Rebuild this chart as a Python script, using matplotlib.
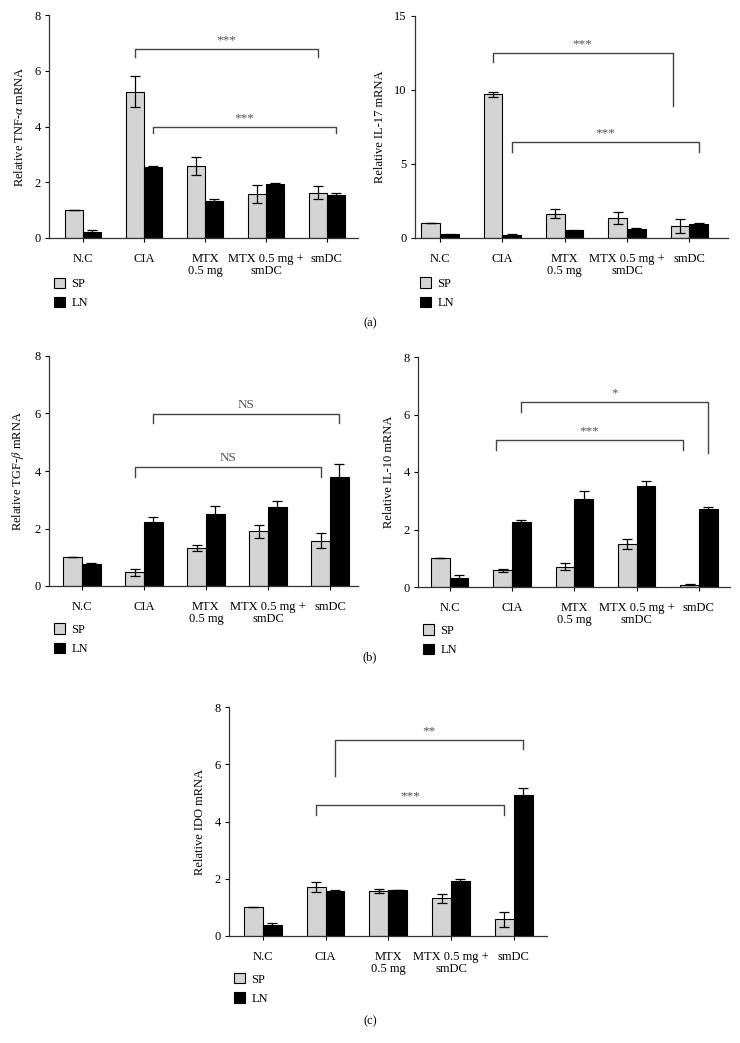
import matplotlib
matplotlib.use("Agg")
import matplotlib.pyplot as plt
from matplotlib.patches import Patch

plt.rcParams['font.family'] = ['Liberation Serif', 'DejaVu Serif']
plt.rcParams['mathtext.fontset'] = 'stix'
plt.rcParams['font.size'] = 9

# categories
groups = ['N.C', 'CIA', 'MTX\n0.5 mg', 'MTX 0.5 mg +\nsmDC', 'smDC']

# TNF-alpha
tnf_sp = [1.0, 5.25, 2.58, 1.58, 1.63]
tnf_sp_err = [0, 0.55, 0.32, 0.33, 0.22]
tnf_ln = [0.22, 2.55, 1.33, 1.93, 1.55]
tnf_ln_err = [0.06, 0.04, 0.06, 0.03, 0.08]

# IL-17
il17_sp = [1.0, 9.7, 1.65, 1.35, 0.82]
il17_sp_err = [0, 0.15, 0.33, 0.42, 0.48]
il17_ln = [0.25, 0.2, 0.52, 0.58, 0.95]
il17_ln_err = [0.03, 0.05, 0.02, 0.1, 0.07]

# TGF-beta
tgf_sp = [1.0, 0.48, 1.33, 1.9, 1.58]
tgf_sp_err = [0, 0.12, 0.1, 0.22, 0.25]
tgf_ln = [0.75, 2.22, 2.52, 2.75, 3.78]
tgf_ln_err = [0.04, 0.18, 0.27, 0.2, 0.45]

# IL-10
il10_sp = [1.0, 0.58, 0.7, 1.5, 0.08]
il10_sp_err = [0, 0.06, 0.12, 0.18, 0.02]
il10_ln = [0.32, 2.25, 3.05, 3.5, 2.7]
il10_ln_err = [0.1, 0.07, 0.3, 0.2, 0.1]

# IDO
ido_sp = [1.0, 1.72, 1.58, 1.32, 0.58]
ido_sp_err = [0, 0.17, 0.07, 0.15, 0.25]
ido_ln = [0.4, 1.57, 1.6, 1.92, 4.93]
ido_ln_err = [0.04, 0.05, 0.01, 0.07, 0.25]

W = 0.3
SP_COLOR = '#d4d4d4'
LINE_COL = '#444444'


def bracket(ax, x1, x2, y, d1, d2, label):
    ax.plot([x1, x1, x2, x2], [d1, y, y, d2], color=LINE_COL, lw=1.0,
            clip_on=False)
    ymax = ax.get_ylim()[1]
    ax.text((x1 + x2) / 2, y + ymax * 0.012, label, ha='center', va='bottom',
            color='#555555', fontsize=9.5)


def panel(rect, sp, sp_err, ln, ln_err, ymax, ystep, ylabel, xlim, brackets,
          legend_y):
    ax = fig.add_axes(rect)
    x = list(range(len(groups)))
    xs = [i - W / 2 for i in x]
    xl = [i + W / 2 for i in x]
    ek = dict(ecolor='black', elinewidth=0.9, capsize=3.5, capthick=0.9)
    ax.bar(xs, sp, W, yerr=sp_err, color=SP_COLOR, edgecolor='black',
           linewidth=0.8, error_kw=ek)
    ax.bar(xl, ln, W, yerr=ln_err, color='black', edgecolor='black',
           linewidth=0.8, error_kw=ek)
    ax.set_ylim(0, ymax)
    ax.set_xlim(*xlim)
    ax.set_yticks(range(0, ymax + 1, ystep))
    ax.set_xticks(x)
    ax.set_xticklabels(groups, linespacing=1.0)
    ax.tick_params(axis='x', length=3, pad=8, width=0.8)
    ax.tick_params(axis='y', length=3, width=0.8, pad=3)
    ax.set_ylabel(ylabel, fontsize=9, labelpad=6)
    for s in ['top', 'right']:
        ax.spines[s].set_visible(False)
    for s in ['left', 'bottom']:
        ax.spines[s].set_linewidth(0.9)
        ax.spines[s].set_color('#333333')
    for b in brackets:
        bracket(ax, *b)
    handles = [Patch(facecolor=SP_COLOR, edgecolor='black', lw=0.8, label='SP'),
               Patch(facecolor='black', edgecolor='black', lw=0.8, label='LN')]
    ax.legend(handles=handles, loc='upper left', frameon=False,
              bbox_to_anchor=(0.0, legend_y), handlelength=0.9,
              handleheight=0.9, handletextpad=0.5, labelspacing=0.55,
              borderaxespad=0, fontsize=9)
    return ax


fig = plt.figure(figsize=(7.4, 10.43), dpi=100)
H = 1043.0
Wd = 740.0


def rect(l, r, b, t):
    return [l / Wd, 1 - b / H, (r - l) / Wd, (b - t) / H]


panel(rect(49, 358, 238, 15), tnf_sp, tnf_sp_err, tnf_ln, tnf_ln_err, 8, 2,
      'Relative TNF-$\\alpha$ mRNA', (-0.56, 4.51),
      [(0.85, 3.85, 6.78, 6.5, 6.5, '***'),
       (1.15, 4.15, 3.98, 3.77, 3.77, '***')], -0.155)

panel(rect(415, 728, 238, 16), il17_sp, il17_sp_err, il17_ln, il17_ln_err,
      15, 5, 'Relative IL-17 mRNA', (-0.4, 4.62),
      [(0.85, 3.73, 12.5, 11.9, 8.9, '***'),
       (1.15, 4.15, 6.5, 5.8, 5.8, '***')], -0.155)

panel(rect(49, 358, 586, 356), tgf_sp, tgf_sp_err, tgf_ln, tgf_ln_err, 8, 2,
      'Relative TGF-$\\beta$ mRNA', (-0.53, 4.45),
      [(1.15, 4.15, 5.98, 5.67, 5.67, 'NS'),
       (0.85, 3.85, 4.14, 3.79, 3.79, 'NS')], -0.14)

panel(rect(418, 730, 587, 357), il10_sp, il10_sp_err, il10_ln, il10_ln_err,
      8, 2, 'Relative IL-10 mRNA', (-0.51, 4.5),
      [(1.15, 4.15, 6.43, 6.09, 4.66, '*'),
       (0.74, 3.74, 5.11, 4.77, 4.77, '***')], -0.14)

panel(rect(229, 547, 936, 707), ido_sp, ido_sp_err, ido_ln, ido_ln_err, 8, 2,
      'Relative IDO mRNA', (-0.54, 4.53),
      [(1.15, 4.15, 6.85, 5.6, 6.54, '**'),
       (0.85, 3.85, 4.58, 4.23, 4.23, '***')], -0.14)

for lab, y in [('(a)', 323), ('(b)', 657), ('(c)', 1021)]:
    fig.text(0.5, 1 - y / H, lab, ha='center', va='center', fontsize=9)

fig.savefig('out.png', dpi=100, facecolor='white')
